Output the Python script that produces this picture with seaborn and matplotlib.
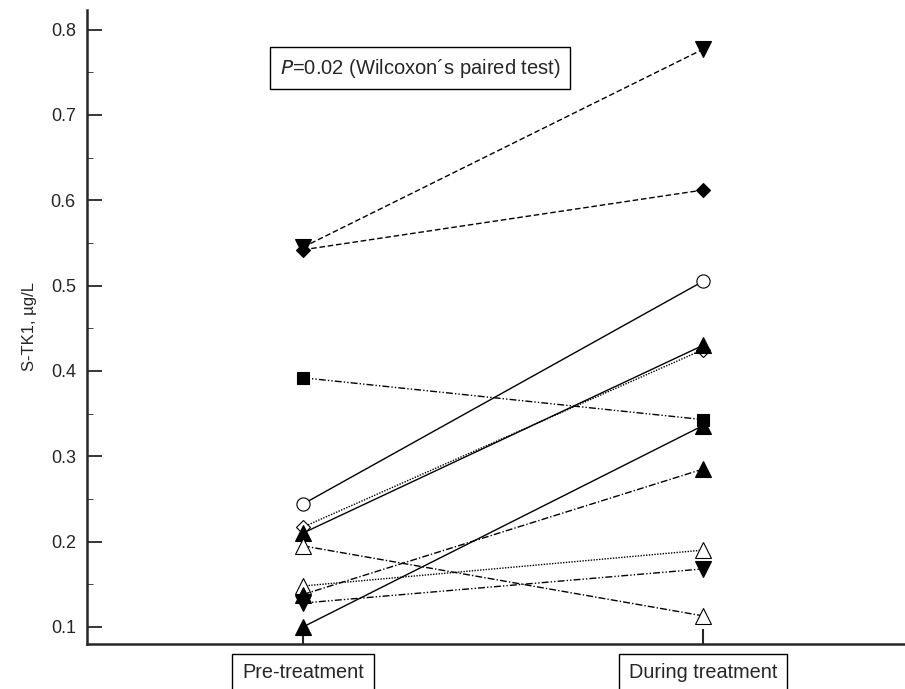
import matplotlib
matplotlib.use("Agg")
import matplotlib.pyplot as plt
import seaborn as sns
import pandas as pd
from matplotlib.ticker import MultipleLocator

sns.set_style("ticks")
plt.rcParams["font.family"] = ["Liberation Sans", "DejaVu Sans"]

timepoints = ["Pre-treatment", "During treatment"]

# S-TK1 per patient: (pre, during)
pre_values = [0.545, 0.542, 0.392, 0.244, 0.217, 0.210, 0.195, 0.148, 0.138, 0.128, 0.100]
during_values = [0.777, 0.612, 0.343, 0.505, 0.425, 0.430, 0.113, 0.190, 0.285, 0.168, 0.336]

# marker, filled, linestyle for each patient
markers = ["v", "D", "s", "o", "D", "^", "^", "^", "^", "v", "^"]
filled = [True, True, True, False, False, True, False, False, True, True, True]
linestyles = [
    (0, (4, 2)), (0, (4, 2)), (0, (5, 1.5, 1, 1.5, 1, 1.5)), "-", (0, (1, 1)), "-",
    (0, (5, 1.5, 1, 1.5)), (0, (1, 1)), (0, (5, 1.5, 1, 1.5)), (0, (5, 1.5, 1, 1.5, 1, 1.5)), "-",
]
msizes = {"v": 11, "^": 11, "D": 7.5, "s": 8.5, "o": 9.5}

fig = plt.figure(figsize=(9.05, 6.89), dpi=100)
ax = fig.add_axes([0.0961, 0.0653, 0.9039, 0.9202])

for i in range(len(pre_values)):
    df = pd.DataFrame({"x": [0, 1], "y": [pre_values[i], during_values[i]]})
    m = markers[i]
    sns.lineplot(
        data=df, x="x", y="y", ax=ax, color="black", linewidth=1.0,
        linestyle=linestyles[i], marker=m, markersize=msizes[m],
        markerfacecolor="black" if filled[i] else "white",
        markeredgecolor="black", markeredgewidth=0.8, zorder=3,
    )

ax.set_xlim(-0.54, 1.505)
ax.set_ylim(0.08, 0.823)
ax.set_xticks([0, 1])
ax.set_xticklabels(timepoints, fontsize=14.3)
ax.yaxis.set_major_locator(MultipleLocator(0.1))
ax.yaxis.set_minor_locator(MultipleLocator(0.05))
ax.set_yticks([0.1, 0.2, 0.3, 0.4, 0.5, 0.6, 0.7, 0.8])
ax.set_yticklabels(["0.1", "0.2", "0.3", "0.4", "0.5", "0.6", "0.7", "0.8"], fontsize=13)
ax.tick_params(axis="y", which="major", direction="in", length=11, width=1.3, pad=8)
ax.tick_params(axis="y", which="minor", direction="in", length=4, width=0.6)
ax.tick_params(axis="x", which="major", direction="in", length=11, width=1.5, pad=14)
ax.set_xlabel("")
ax.set_ylabel("S-TK1, \u00b5g/L", fontsize=12, labelpad=10)

for lbl in ax.get_xticklabels():
    lbl.set_bbox(dict(facecolor="white", edgecolor="black", linewidth=1.0, pad=7))

sns.despine(ax=ax)
for side in ("left", "bottom"):
    ax.spines[side].set_linewidth(1.8)

ax.text(0.407, 0.908, "$P$=0.02 (Wilcoxon\u00b4s paired test)",
        transform=ax.transAxes, ha="center", va="center", fontsize=14.5,
        bbox=dict(facecolor="white", edgecolor="black", linewidth=1.0, pad=7))

fig.savefig("out.png", dpi=100)
